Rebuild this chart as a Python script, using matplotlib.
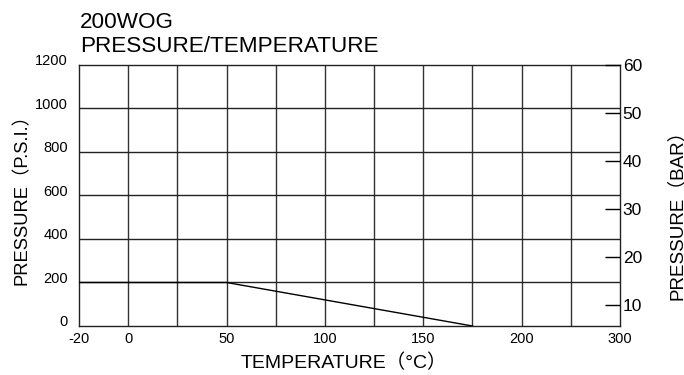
import numpy as np
import matplotlib.pyplot as plt
from matplotlib.transforms import ScaledTranslation

plt.rcParams['font.family'] = ['Liberation Sans', 'Noto Sans CJK SC']

# rating curve
temp_c = [-20, 50, 175]
pressure_psi = [200, 200, 0]

x_ticks = [-20, 0, 50, 100, 150, 200, 300]
x_grid = [-20, 0, 25, 50, 75, 100, 125, 150, 175, 200, 250, 300]
psi_ticks = [0, 200, 400, 600, 800, 1000, 1200]
bar_ticks = [10, 20, 30, 40, 50, 60]

# temperature axis is drawn with uneven spacing: one cell per 25 C,
# except -20..0 and the 50 C cells above 200
knot_t = [-20, 0, 200, 300]
knot_u = [0, 1, 9, 11]

def fwd(t):
    return np.interp(t, knot_t, knot_u)

def inv(u):
    return np.interp(u, knot_u, knot_t)

fig = plt.figure(figsize=(6.84, 3.75), dpi=100)
ax = fig.add_axes([0.1155, 0.1307, 0.7909, 0.696])
ax.set_xscale('function', functions=(fwd, inv))
ax.set_xlim(-20, 300)
ax.set_ylim(0, 1200)

for t in x_grid[1:-1]:
    ax.axvline(t, color='#333333', lw=1.0, zorder=1)
for p in psi_ticks[1:-1]:
    ax.axhline(p, color='#222222', lw=1.0, zorder=1)

ax.plot(temp_c, pressure_psi, color='black', lw=1.0, zorder=3)

ax.set_xticks(x_ticks)
ax.set_xticklabels([str(t) for t in x_ticks])
ax.set_yticks(psi_ticks)
ax.set_yticklabels([str(p) for p in psi_ticks])
ax.tick_params(axis='both', length=0, labelsize=10.5, colors='black')
ax.tick_params(axis='x', pad=4)
ax.tick_params(axis='y', pad=8)
# psi labels sit a little above their lines
lift = ScaledTranslation(0, 5 / 100, fig.dpi_scale_trans)
for lbl in ax.get_yticklabels():
    lbl.set_transform(lbl.get_transform() + lift)
for s in ax.spines.values():
    s.set_linewidth(1.0)
    s.set_color('#222222')

ax.set_xlabel('TEMPERATURE（°C）', fontsize=14)
ax.xaxis.set_label_coords(0.49, -0.105)
ax.set_ylabel('PRESSURE（P.S.I.）', fontsize=13.2)
ax.yaxis.set_label_coords(-0.09, 0.5)

# bar scale on the right side
ax2 = ax.twinx()
ax2.set_ylim(5.6, 60)
ax2.set_yticks(bar_ticks)
ax2.set_yticklabels([str(b) for b in bar_ticks])
ax2.tick_params(axis='y', direction='in', length=11, width=1.0,
                labelsize=12.5, pad=2, colors='black')
for s in ax2.spines.values():
    s.set_visible(False)
ax2.set_ylabel('PRESSURE（BAR）', fontsize=13.5)
ax2.yaxis.set_label_coords(1.088, 0.444)

fig.text(0.117, 0.9253, '200WOG', fontsize=16.2, va='baseline', ha='left')
fig.text(0.117, 0.8613, 'PRESSURE/TEMPERATURE', fontsize=16.2,
         va='baseline', ha='left')

fig.savefig('out.png', dpi=100)
